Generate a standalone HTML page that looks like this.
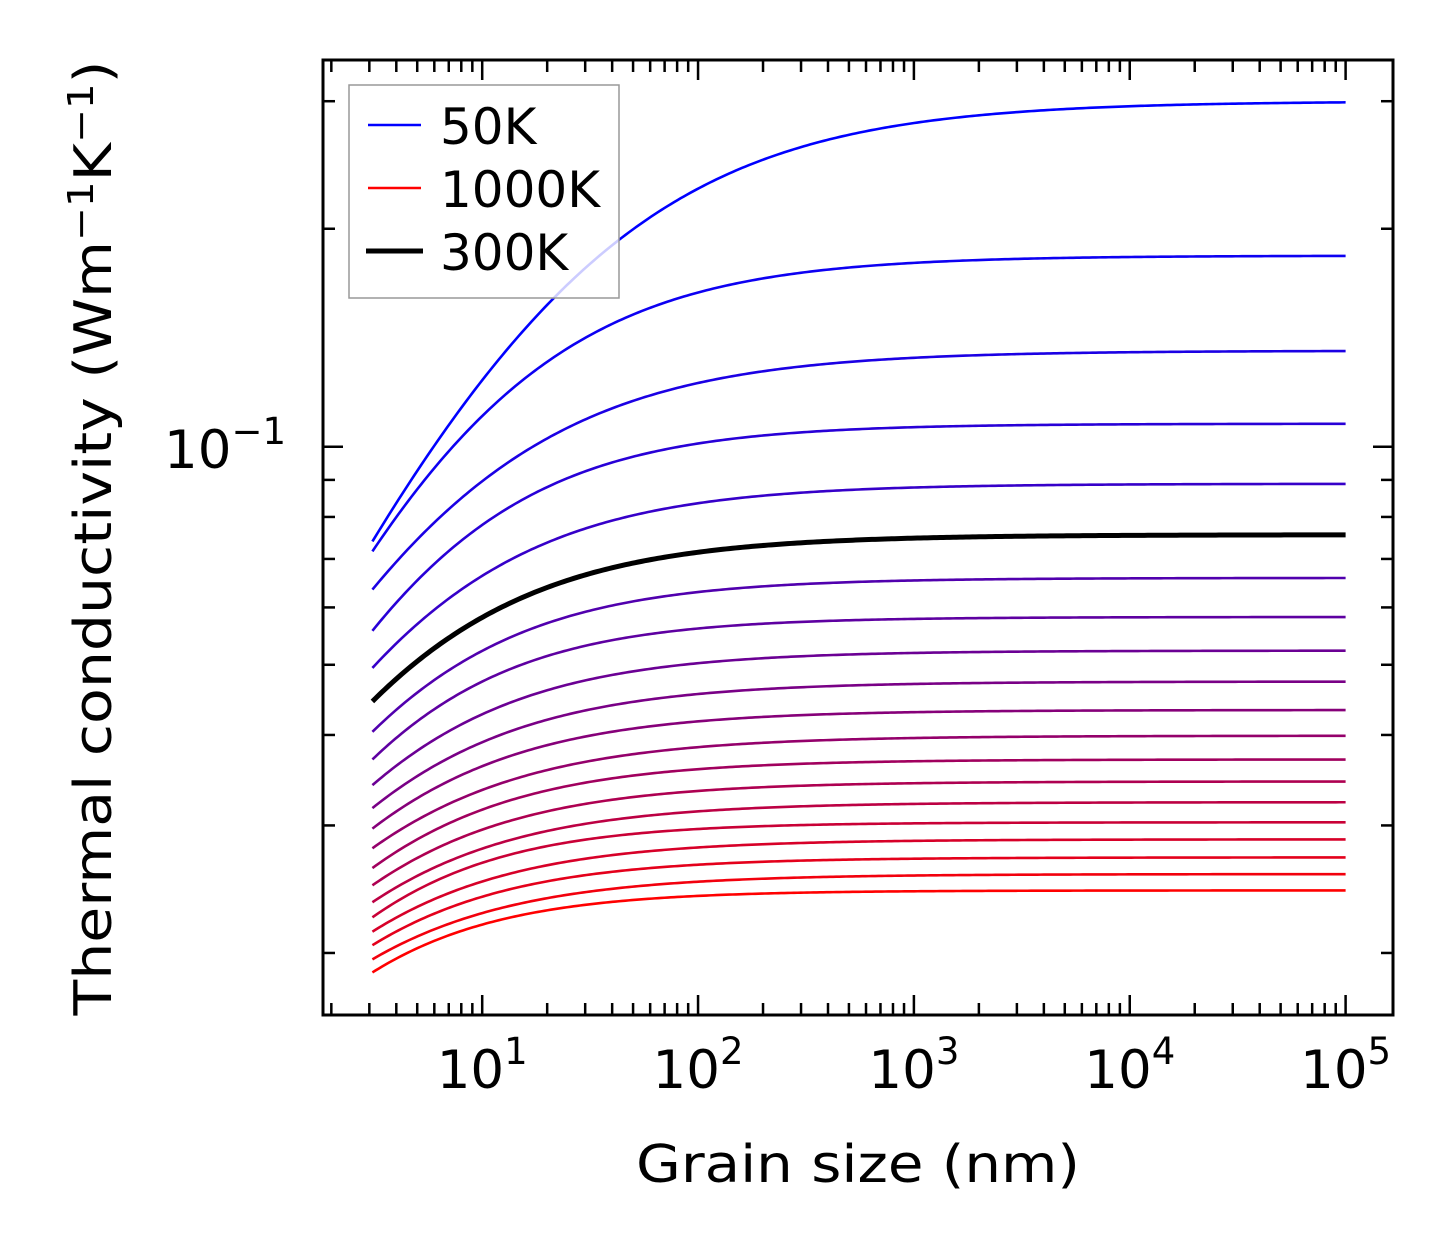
<!DOCTYPE html>
<html><head><meta charset="utf-8"><style>
html,body{margin:0;padding:0;background:#fff;}
svg{display:block;font-family:"DejaVu Sans","Liberation Sans",sans-serif;}
</style></head><body>
<svg id="chart" width="1454" height="1254" viewBox="0 0 1454 1254" xmlns="http://www.w3.org/2000/svg">
<rect x="0" y="0" width="1454" height="1254" fill="#fff"/>
<g id="curves"></g>
<g id="ticks"></g>
<rect x="323" y="60" width="1070" height="955" fill="none" stroke="#000" stroke-width="3"/>
<g id="labels"></g>
<text x="858" y="1182" font-size="52" text-anchor="middle" textLength="444" lengthAdjust="spacingAndGlyphs">Grain size (nm)</text>
<text transform="translate(111,538) rotate(-90)" font-size="52" text-anchor="middle" textLength="955" lengthAdjust="spacingAndGlyphs">Thermal conductivity (Wm<tspan dy="-18" font-size="36">−1</tspan><tspan dy="18">K</tspan><tspan dy="-18" font-size="36">−1</tspan><tspan dy="18">)</tspan></text>
<g>
<rect x="349" y="85" width="270" height="213" fill="#fff" fill-opacity="0.8" stroke="#999" stroke-width="1.5"/>
<line x1="368" y1="125" x2="421" y2="125" stroke="#0000ff" stroke-width="2.5"/>
<text x="440" y="144" font-size="50">50K</text>
<line x1="368" y1="188" x2="421" y2="188" stroke="#ff0000" stroke-width="2.5"/>
<text x="440" y="207" font-size="50">1000K</text>
<line x1="366" y1="251" x2="423" y2="251" stroke="#000" stroke-width="5"/>
<text x="440" y="270" font-size="50">300K</text>
</g>
</svg>
<script>
const grainSizes = [3.1, 10, 100, 1000, 100000];
const temperatures = [50,100,150,200,250,300,350,400,450,500,550,600,650,700,750,800,850,900,950,1000];
const kAt3 = [0.0740,0.0717,0.0635,0.0557,0.0495,0.0445,0.0404,0.0370,0.0341,0.0317,0.0297,0.0279,0.0262,0.0248,0.0235,0.0224,0.0214,0.0205,0.0196,0.0188];
const kAt10 = [0.1265,0.1059,0.0886,0.0751,0.0649,0.0571,0.0511,0.0462,0.0421,0.0386,0.0358,0.0333,0.0312,0.0293,0.0275,0.0260,0.0247,0.0236,0.0225,0.0215];
const kAt100 = [0.2243,0.1580,0.1226,0.1013,0.0837,0.0716,0.0631,0.0562,0.0503,0.0456,0.0418,0.0385,0.0359,0.0335,0.0314,0.0297,0.0280,0.0265,0.0251,0.0240];
const kAt1000 = [0.2803,0.1801,0.1344,0.1066,0.0881,0.0751,0.0655,0.0580,0.0521,0.0472,0.0432,0.0398,0.0368,0.0343,0.0322,0.0302,0.0285,0.0270,0.0256,0.0244];
const kAt1e5 = [0.3000,0.1836,0.1357,0.1076,0.0889,0.0756,0.0659,0.0582,0.0523,0.0474,0.0433,0.0399,0.0370,0.0345,0.0323,0.0303,0.0287,0.0271,0.0257,0.0244];
const xTickLabels = ["1","2","3","4","5"];

const NS = "http://www.w3.org/2000/svg";
const L=323,R=1393,T=60,B=1015;
const xLo=Math.log10(1.83), xHi=Math.log10(165800);
const yLo=Math.log10(0.01642), yHi=Math.log10(0.342);
function xs(v){return L+(Math.log10(v)-xLo)/(xHi-xLo)*(R-L);}
function ys(v){return B-(Math.log10(v)-yLo)/(yHi-yLo)*(B-T);}
function mk(tag,attrs,parent){const e=document.createElementNS(NS,tag);for(const k in attrs)e.setAttribute(k,attrs[k]);parent.appendChild(e);return e;}

// Smooth fit per curve: k = kinf / (1 + (L0/L)^a), anchored at the first point
function fitCurve(pts,kinf){
  const P=[];
  pts.forEach(p=>{const r=p[1]/kinf;if(r<0.985&&r>0)P.push([Math.log(p[0]),Math.log(1/r-1)]);});
  if(P.length<1)return {a:1,c:0};
  const x0=P[0][0],y0=P[0][1];
  if(P.length<2)return {a:1,c:y0+x0};
  let num=0,den=0;
  for(let j=1;j<P.length;j++){const dx=P[j][0]-x0,dy=P[j][1]-y0;num+=dx*dy;den+=dx*dx;}
  const slope=num/den;
  return {a:-slope,c:y0-slope*x0};
}

const cg=document.getElementById('curves');
let blackPath=null;
temperatures.forEach((T_,i)=>{
  const kinf=kAt1e5[i];
  const pts=[[grainSizes[0],kAt3[i]],[grainSizes[1],kAt10[i]],[grainSizes[2],kAt100[i]],[grainSizes[3],kAt1000[i]]];
  const fit=fitCurve(pts,kinf);
  const lx0=Math.log10(grainSizes[0]),lx1=Math.log10(grainSizes[grainSizes.length-1]);
  let d="";
  for(let s=0;s<=300;s++){const g=Math.pow(10,lx0+(lx1-lx0)*s/300);
    const v=kinf/(1+Math.exp(fit.c-fit.a*Math.log(g)));
    d+=(s?"L":"M")+xs(g).toFixed(2)+","+ys(v).toFixed(2);}
  const t=i/(temperatures.length-1);
  const col="rgb("+Math.round(255*t)+",0,"+Math.round(255*(1-t))+")";
  const isBlack=T_===300;
  const p=mk('path',{d:d,fill:'none',stroke:isBlack?'#000':col,'stroke-width':isBlack?5:2.6},cg);
  
  
  if(isBlack)blackPath=p;
});
if(blackPath)cg.appendChild(blackPath);

const tg=document.getElementById('ticks');
function tick(x1,y1,x2,y2,name){const e=mk('line',{x1:x1,y1:y1,x2:x2,y2:y2,stroke:'#000','stroke-width':2.5},tg);
  
  }
for(let e=0;e<=5;e++){for(let k=1;k<=9;k++){const v=k*Math.pow(10,e);if(v<1.83||v>165800)continue;const x=xs(v);const len=k===1?20:12;
  tick(x,B,x,B-len,'x-tick');tick(x,T,x,T+len,'x-tick-top');}}
for(let e=-2;e<=-1;e++){for(let k=1;k<=9;k++){const v=k*Math.pow(10,e);if(v<0.01642||v>0.342)continue;const y=ys(v);const len=k===1?20:12;
  tick(L,y,L+len,y,'y-tick');tick(R,y,R-len,y,'y-tick-right');}}

const lg=document.getElementById('labels');
xTickLabels.forEach((s,i)=>{const x=xs(Math.pow(10,+s));
  const t=mk('text',{x:x,y:1088,'font-size':53,'text-anchor':'middle'},lg);
  
  
  t.innerHTML='10<tspan dy="-24" font-size="37">'+s+'</tspan>';});
const yl=mk('text',{x:164,y:468,'font-size':53},lg);


yl.innerHTML='10<tspan dy="-24" font-size="37">−1</tspan>';
</script>
</body></html>
